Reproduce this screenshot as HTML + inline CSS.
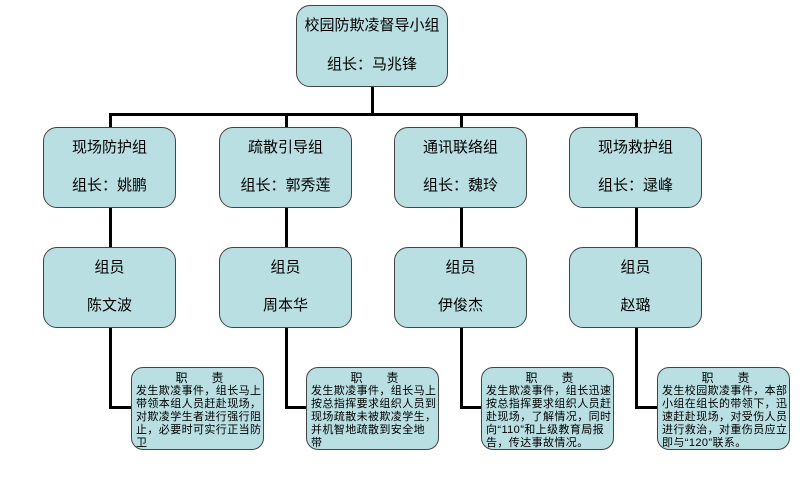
<!DOCTYPE html>
<html><head><meta charset="utf-8"><style>
body{margin:0;width:811px;height:484px;background:#fff;position:relative;overflow:hidden;font-family:"Liberation Sans","Noto Sans CJK SC",sans-serif;}
.b{position:absolute;box-sizing:border-box;background:#b9dfe3;border:1.5px solid #444;border-radius:14px;text-align:center;font-size:15px;color:#000;}
.b .t1{position:absolute;left:0;right:0;top:8px;}
.b .t2{position:absolute;left:0;right:0;bottom:12px;}
.l{position:absolute;background:#000;}
.d{position:absolute;box-sizing:border-box;background:#b9dfe3;border:1.5px solid #444;border-radius:12px;font-size:11px;line-height:13px;padding:4px 0 0 4px;overflow:hidden;height:83px;width:133px;text-align:left;letter-spacing:0.4px;white-space:nowrap}
.d .h{text-align:center;letter-spacing:0;font-size:12px}
</style></head><body>
<div class="l" style="left:371px;top:86px;width:3px;height:29px"></div>
<div class="l" style="left:109px;top:113px;width:529px;height:3px"></div>
<div class="l" style="left:109px;top:113px;width:3px;height:296px"></div>
<div class="l" style="left:285px;top:113px;width:3px;height:296px"></div>
<div class="l" style="left:460px;top:113px;width:3px;height:296px"></div>
<div class="l" style="left:635px;top:113px;width:3px;height:296px"></div>
<div class="l" style="left:109px;top:406px;width:24px;height:3px"></div>
<div class="l" style="left:285px;top:406px;width:23px;height:3px"></div>
<div class="l" style="left:460px;top:406px;width:23px;height:3px"></div>
<div class="l" style="left:635px;top:406px;width:24px;height:3px"></div>

<div class="b" style="left:296px;top:5px;width:152px;height:82px"><div class="t1">校园防欺凌督导小组</div><div class="t2">组长：马兆锋</div></div>

<div class="b" style="left:43px;top:127px;width:133px;height:81px"><div class="t1">现场防护组</div><div class="t2">组长：姚鹏</div></div>
<div class="b" style="left:219px;top:127px;width:133px;height:81px"><div class="t1">疏散引导组</div><div class="t2">组长：郭秀莲</div></div>
<div class="b" style="left:394px;top:127px;width:133px;height:81px"><div class="t1">通讯联络组</div><div class="t2">组长：魏玲</div></div>
<div class="b" style="left:569px;top:127px;width:133px;height:81px"><div class="t1">现场救护组</div><div class="t2">组长：逯峰</div></div>

<div class="b" style="left:43px;top:247px;width:133px;height:81px"><div class="t1">组员</div><div class="t2">陈文波</div></div>
<div class="b" style="left:219px;top:247px;width:133px;height:81px"><div class="t1">组员</div><div class="t2">周本华</div></div>
<div class="b" style="left:394px;top:247px;width:133px;height:81px"><div class="t1">组员</div><div class="t2">伊俊杰</div></div>
<div class="b" style="left:569px;top:247px;width:133px;height:81px"><div class="t1">组员</div><div class="t2">赵璐</div></div>

<div class="d" style="left:131px;top:367px"><div class="h">职　　责</div>发生欺凌事件，组长马上<br>带领本组人员赶赴现场，<br>对欺凌学生者进行强行阻<br>止，必要时可实行正当防<br>卫</div>
<div class="d" style="left:306px;top:367px"><div class="h">职　　责</div>发生欺凌事件，组长马上<br>按总指挥要求组织人员到<br>现场疏散未被欺凌学生，<br>并机智地疏散到安全地<br>带</div>
<div class="d" style="left:481px;top:367px"><div class="h">职　　责</div>发生欺凌事件，组长迅速<br>按总指挥要求组织人员赶<br>赴现场，了解情况，同时<br>向“110”和上级教育局报<br>告，传达事故情况。</div>
<div class="d" style="left:657px;top:367px"><div class="h">职　　责</div>发生校园欺凌事件，本部<br>小组在组长的带领下，迅<br>速赶赴现场，对受伤人员<br>进行救治，对重伤员应立<br>即与“120”联系。</div>
</body></html>
